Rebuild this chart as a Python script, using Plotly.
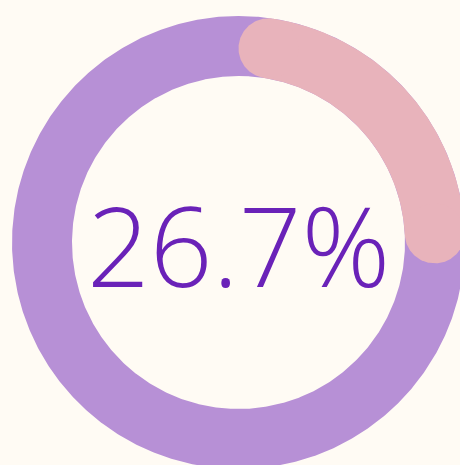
import numpy as np
import plotly.graph_objects as go

# ---- data ----
progress_pct = [26.7]
center_label = ["26.7%"]

# ---- layout constants (pixels) ----
W, H = 460, 465
CX, CY = 238.5, 242.5
R_OUT, R_IN = 226.5, 166.5
BG = "#fffbf4"
RING = "#b790d6"
ARC = "#e8b3bb"
TXT = "#6a22b8"


def pt(theta_deg, r):
    t = np.radians(theta_deg)
    return CX + r * np.sin(t), CY - r * np.cos(t)


def annulus(a0, a1, r0, r1, n=720):
    th = np.linspace(a0, a1, n)
    xo, yo = pt(th, r1)
    xi, yi = pt(th[::-1], r0)
    return np.concatenate([xo, xi, xo[:1]]), np.concatenate([yo, yi, yo[:1]])


def disk(xc, yc, r, n=180):
    t = np.linspace(0, 2 * np.pi, n)
    return xc + r * np.cos(t), yc + r * np.sin(t)


fig = go.Figure()

# base ring
bx, by = annulus(0, 360, R_IN, R_OUT)
fig.add_trace(go.Scatter(x=bx, y=by, mode="lines", fill="toself", fillcolor=RING,
                         line=dict(width=0, color=RING), hoverinfo="skip"))

# progress arc with rounded ends (caps kept inside the arc span)
end_angle = progress_pct[0] / 100 * 360
half = (R_OUT - R_IN) / 2
mid = (R_OUT + R_IN) / 2
delta = np.degrees(np.arcsin(half / mid))
a0, a1 = delta, end_angle - delta
sx, sy = annulus(a0, a1, R_IN, R_OUT)
fig.add_trace(go.Scatter(x=sx, y=sy, mode="lines", fill="toself", fillcolor=ARC,
                         line=dict(width=0, color=ARC), hoverinfo="skip"))
for a in (a0, a1):
    px, py = pt(a, mid)
    dx, dy = disk(px, py, half)
    fig.add_trace(go.Scatter(x=dx, y=dy, mode="lines", fill="toself", fillcolor=ARC,
                             line=dict(width=0, color=ARC), hoverinfo="skip"))

fig.add_annotation(x=CX, y=CY + 1, text=center_label[0], showarrow=False,
                   xanchor="center", yanchor="middle",
                   font=dict(family="Open Sans", size=110, color=TXT, weight=300))

fig.update_layout(
    width=W, height=H, margin=dict(l=0, r=0, t=0, b=0),
    paper_bgcolor=BG, plot_bgcolor=BG, showlegend=False,
    xaxis=dict(range=[0, W], visible=False, fixedrange=True),
    yaxis=dict(range=[H, 0], visible=False, fixedrange=True),
)

fig.write_html("out.html", config={"displayModeBar": False},
               post_script="document.body.style.margin='0';document.body.style.overflow='hidden';")
